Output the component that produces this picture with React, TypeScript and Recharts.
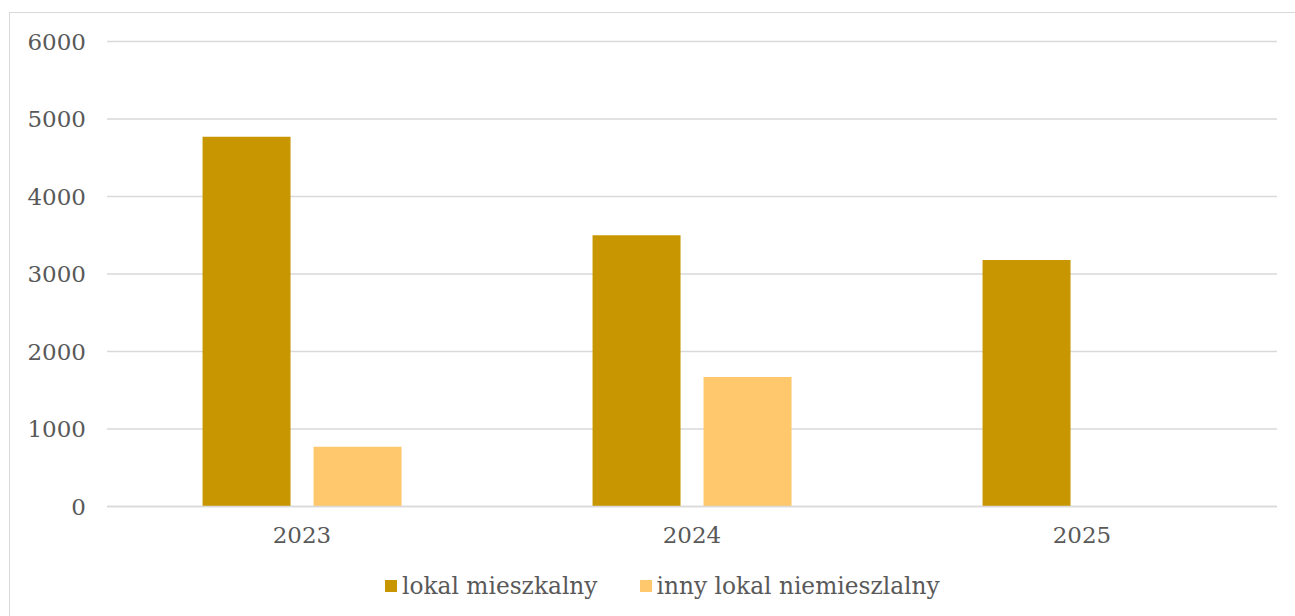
import { BarChart, Bar, XAxis, YAxis, CartesianGrid } from 'recharts'

const years = ['2023', '2024', '2025']
const lokalMieszkalny = [4770, 3500, 3180]
const innyLokal = [770, 1670, 0]
const yTicks = [0, 1000, 2000, 3000, 4000, 5000, 6000]

const series = [
  { key: 'mieszkalny', name: 'lokal mieszkalny', color: '#C89600' },
  { key: 'inny', name: 'inny lokal niemieszlalny', color: '#FFC86C' },
]

const data = years.map((year, i) => ({
  year,
  mieszkalny: lokalMieszkalny[i],
  inny: innyLokal[i],
}))

const font = 'DejaVu Serif'
const textColor = '#595959'
const gridColor = '#d9d9d9'

export default function App() {
  return (
    <div style={{ position: 'absolute', left: 0, top: 0, width: 1295, height: 616, overflow: 'hidden', background: '#fff' }}>
      <div
        style={{
          position: 'absolute', left: 9, top: 12, width: 1300, height: 620,
          border: `1px solid ${gridColor}`, boxSizing: 'border-box',
        }}
      />
      <div style={{ position: 'absolute', left: 0, top: 0 }}>
        <BarChart
          width={1295}
          height={616}
          data={data}
          margin={{ top: 41.5, right: 18, bottom: 49.5, left: 0 }}
          barCategoryGap="24.5%"
          barGap={23}
        >
          <CartesianGrid horizontal vertical={false} stroke={gridColor} strokeWidth={1.5} />
          <XAxis
            dataKey="year"
            height={60}
            tickLine={false}
            tickSize={0}
            tickMargin={20}
            axisLine={{ stroke: gridColor, strokeWidth: 1.5 }}
            tick={{ fill: textColor, fontSize: 23, fontFamily: font }}
          />
          <YAxis
            width={107}
            domain={[0, 6000]}
            ticks={yTicks}
            interval={0}
            tickLine={false}
            axisLine={false}
            tickSize={0}
            tickMargin={21}
            tick={{ fill: textColor, fontSize: 23, fontFamily: font }}
          />
          {series.map(s => (
            <Bar key={s.key} dataKey={s.key} name={s.name} fill={s.color} isAnimationActive={false} />
          ))}
        </BarChart>
      </div>
      <div
        style={{
          position: 'absolute', left: 385, top: 572, display: 'flex', alignItems: 'center',
          fontFamily: font, fontSize: 23.3, color: textColor, lineHeight: '28px', whiteSpace: 'nowrap',
        }}
      >
        {series.map((s, i) => (
          <div key={s.key} style={{ display: 'flex', alignItems: 'center', marginLeft: i === 0 ? 0 : 42 }}>
            <span style={{ display: 'inline-block', width: 12, height: 12, background: s.color, marginRight: 5 }} />
            <span>{s.name}</span>
          </div>
        ))}
      </div>
    </div>
  )
}
